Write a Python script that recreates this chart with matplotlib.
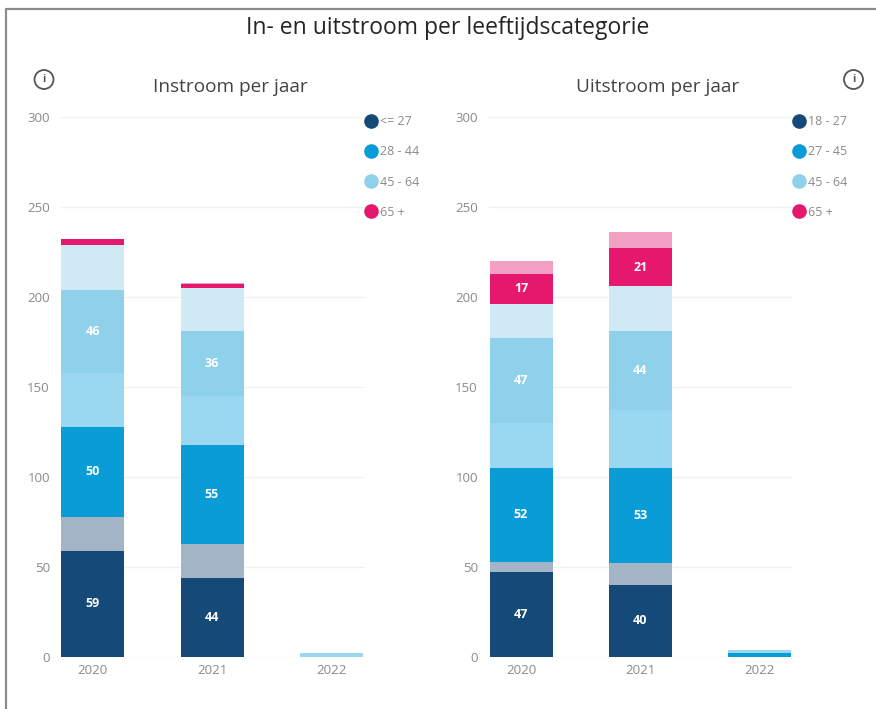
import matplotlib
matplotlib.use("Agg")
import matplotlib.pyplot as plt
from matplotlib.lines import Line2D
from matplotlib.patches import Circle

plt.rcParams['font.family'] = ['Open Sans', 'DejaVu Sans']

W, H = 876, 709

jaren = ["2020", "2021", "2022"]

# van onder naar boven gestapeld
in_donker = [59, 44, 0]
in_donker_licht = [19, 19, 0]
in_blauw = [50, 55, 0]
in_blauw_licht = [30, 27, 2]
in_lichtblauw = [46, 36, 0]
in_lichtblauw_licht = [25, 24, 0]
in_roze = [3, 2, 0]
in_roze_licht = [0, 1, 0]

uit_donker = [47, 40, 0]
uit_donker_licht = [6, 12, 0]
uit_blauw = [52, 53, 2]
uit_blauw_licht = [25, 32, 2]
uit_lichtblauw = [47, 44, 0]
uit_lichtblauw_licht = [19, 25, 0]
uit_roze = [17, 21, 0]
uit_roze_licht = [7, 9, 0]

legenda_in = ["<= 27", "28 - 44", "45 - 64", "65 +"]
legenda_uit = ["18 - 27", "27 - 45", "45 - 64", "65 +"]
y_ticks = [0, 50, 100, 150, 200, 250, 300]

kleuren = ["#154a78", "#a3b4c6", "#0a9cd6", "#9ad7f0",
           "#8fd0ea", "#d0eaf5", "#e6186d", "#f2a0c4"]
legenda_kleuren = ["#154a78", "#0a9cd6", "#8fd0ea", "#e6186d"]
tekst_grijs = "#8a8a8a"


def make_axes(left, right):
	"""Axes op pixelpositie, y loopt van 0 (px 657) tot 300 (px 117)"""
	return fig.add_axes([left / W, 1 - 657 / H, (right - left) / W, 540 / H])


def drawStack(ax, reeksen, x_c, stap, x_left, x_right):
	x = list(range(len(jaren)))
	bottom = [0] * len(jaren)
	for i, vals in enumerate(reeksen):
		bars = ax.bar(x, vals, 63 / stap, bottom=bottom, color=kleuren[i], zorder=3)
		if i % 2 == 0:
			labels = [str(v) if v >= 10 else "" for v in vals]
			ax.bar_label(bars, labels=labels, label_type="center", color="white",
				fontsize=9, fontweight="bold", zorder=4)
		bottom = [b + v for b, v in zip(bottom, vals)]
	ax.set_xlim((x_left - x_c) / stap, (x_right - x_c) / stap)
	ax.set_ylim(0, 300)
	ax.set_yticks(y_ticks)
	ax.set_xticks(x)
	ax.set_xticklabels(jaren)
	ax.tick_params(length=0, labelsize=9.5, labelcolor=tekst_grijs)
	ax.tick_params(axis="y", pad=8)
	ax.tick_params(axis="x", pad=5)
	ax.grid(axis="y", color="#f1f1f1", linewidth=1, zorder=0)
	ax.set_axisbelow(True)
	for s in ax.spines.values():
		s.set_visible(False)
	ax.patch.set_alpha(0)


def drawLegend(ax, labels, x_px, y_px):
	handles = [Line2D([], [], linestyle="", marker="o", markersize=9.5, color=c)
		for c in legenda_kleuren]
	leg = ax.legend(handles, labels, loc="upper left", frameon=False,
		bbox_to_anchor=(x_px / W, 1 - y_px / H), bbox_transform=fig.transFigure,
		fontsize=9, labelcolor=tekst_grijs, labelspacing=1.38,
		handletextpad=0.15, handlelength=1.2, borderpad=0, borderaxespad=0)
	return leg


fig = plt.figure(figsize=(W / 100, H / 100), dpi=100)

# overlay in pixelcoordinaten voor kader, titels en iconen
over = fig.add_axes([0, 0, 1, 1])
over.set_xlim(0, W)
over.set_ylim(H, 0)
over.axis("off")
over.plot([6, 6, W], [H, 8.5, 8.5], color="#8c8c8c", linewidth=1.6)
over.text(448, 28, "In- en uitstroom per leeftijdscategorie", fontsize=16.5,
	color="#252525", ha="center", va="center")
over.text(230, 87, "Instroom per jaar", fontsize=13.7, color="#444444", ha="center", va="center")
over.text(658, 87, "Uitstroom per jaar", fontsize=13.7, color="#444444", ha="center", va="center")
for cx in [44, 853.5]:
	over.add_patch(Circle((cx, 79.5), 9.5, fill=False, edgecolor="#555555", linewidth=1.3))
	over.text(cx, 79.5, "i", fontsize=8, fontweight="bold", color="#555555", ha="center", va="center")

ax1 = make_axes(61, 365)
drawStack(ax1, [in_donker, in_donker_licht, in_blauw, in_blauw_licht, in_lichtblauw,
	in_lichtblauw_licht, in_roze, in_roze_licht], 92.5, 119.5, 61, 365)
drawLegend(ax1, legenda_in, 363.5, 115)

ax2 = make_axes(489, 792)
drawStack(ax2, [uit_donker, uit_donker_licht, uit_blauw, uit_blauw_licht, uit_lichtblauw,
	uit_lichtblauw_licht, uit_roze, uit_roze_licht], 521, 119.25, 489, 792)
drawLegend(ax2, legenda_uit, 791, 115)

fig.savefig("out.png", dpi=100)
